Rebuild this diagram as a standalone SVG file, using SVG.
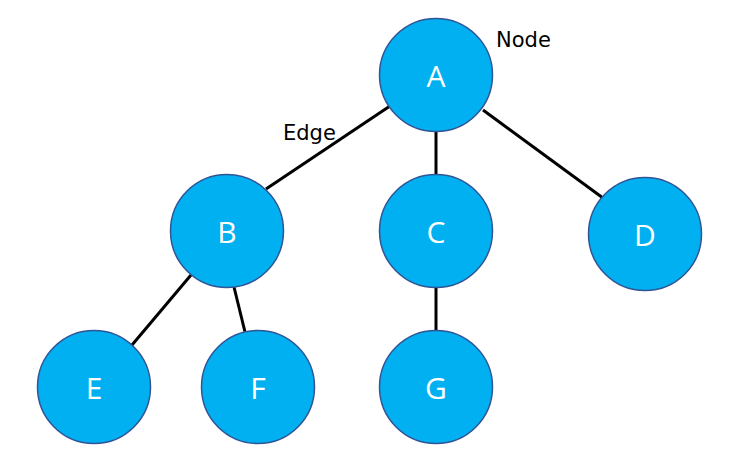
<svg xmlns="http://www.w3.org/2000/svg" width="730" height="458" viewBox="0 0 730 458">
  <style>
    .edge { stroke: #000; stroke-width: 3; fill: none; }
    .node circle { fill: #00B0F0; stroke: #2F5597; stroke-width: 1.5; }
    .node text { fill: #fff; font-family: "Open Sans", "Noto Sans", sans-serif; font-size: 30px; text-anchor: middle; }
    .note { fill: #000; font-family: "DejaVu Sans", sans-serif; font-size: 21px; }
  </style>
  <rect width="730" height="458" fill="#fff"/>
  <g id="edges">
    <line class="edge" x1="390" y1="106" x2="266" y2="189"/>
    <line class="edge" x1="436" y1="131" x2="436" y2="175"/>
    <line class="edge" x1="483" y1="110" x2="603" y2="198"/>
    <line class="edge" x1="191" y1="275" x2="132" y2="345"/>
    <line class="edge" x1="234" y1="287" x2="245" y2="332"/>
    <line class="edge" x1="436" y1="287" x2="436" y2="330"/>
  </g>
  <g id="node-A" class="node"><circle cx="436" cy="75" r="56.5"/><text x="436" y="87">A</text></g>
  <g id="node-B" class="node"><circle cx="227" cy="231" r="56.5"/><text x="227" y="243">B</text></g>
  <g id="node-C" class="node"><circle cx="436" cy="231" r="56.5"/><text x="436" y="243">C</text></g>
  <g id="node-D" class="node"><circle cx="645" cy="234" r="56.5"/><text x="645" y="246">D</text></g>
  <g id="node-E" class="node"><circle cx="94" cy="387" r="56.5"/><text x="94" y="399">E</text></g>
  <g id="node-F" class="node"><circle cx="258" cy="387" r="56.5"/><text x="258" y="399">F</text></g>
  <g id="node-G" class="node"><circle cx="436" cy="387" r="56.5"/><text x="436" y="399">G</text></g>
  <text class="note" x="496" y="47">Node</text>
  <text class="note" x="283" y="140">Edge</text>
</svg>
